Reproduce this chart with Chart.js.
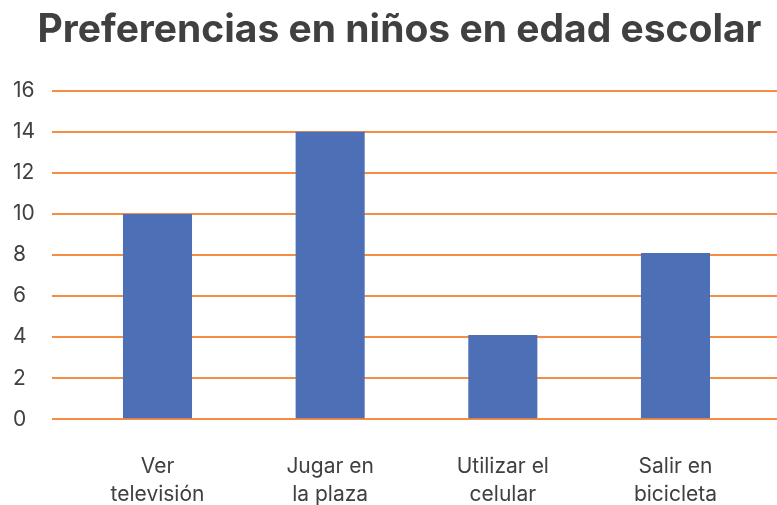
<!DOCTYPE html>
<html>
<head>
<meta charset="utf-8">
<script src="https://cdn.jsdelivr.net/npm/chart.js@4"></script>
<style>
    body { margin: 0; background: #ffffff; }
    #wrap { width: 777px; height: 505px; }
</style>
</head>
<body>
<div id="wrap"><canvas id="chart" width="777" height="505"></canvas></div>
<script>
const chartTitle = 'Preferencias en niños en edad escolar';
const categories = [
    ['Ver', 'televisión'],
    ['Jugar en', 'la plaza'],
    ['Utilizar el', 'celular'],
    ['Salir en', 'bicicleta']
];
const values = [10, 14, 4.1, 8.1];
const yTicks = [0, 2, 4, 6, 8, 10, 12, 14, 16];

const gridColor = '#F58D42';
const barColor = '#4D6FB5';
const textColor = '#404040';

document.addEventListener("DOMContentLoaded", function () {
    const ctx = document.getElementById('chart').getContext('2d');
    new Chart(ctx, {
        type: 'bar',
        data: {
            datasets: [{
                data: values.map((v, i) => ({ x: i + 1, y: v })),
                backgroundColor: barColor,
                borderWidth: 0,
                barPercentage: 0.8,
                categoryPercentage: 0.5
            }]
        },
        options: {
            responsive: false,
            animation: false,
            layout: { padding: { left: 22, right: 0, top: 0, bottom: -29 } },
            plugins: {
                legend: { display: false },
                tooltip: { enabled: false },
                title: {
                    display: true,
                    text: chartTitle,
                    color: textColor,
                    font: { family: 'Inter', size: 39, weight: 'bold', lineHeight: 1.2 },
                    padding: { top: 7, bottom: 37 }
                }
            },
            scales: {
                x: {
                    type: 'linear',
                    offset: false,
                    min: 0.389,
                    max: 4.588,
                    grid: { display: false },
                    border: { display: false },
                    afterBuildTicks: function (scale) {
                        scale.ticks = categories.map((c, i) => ({ value: i + 1 }));
                    },
                    ticks: {
                        autoSkip: false,
                        maxRotation: 0,
                        padding: 25,
                        color: textColor,
                        font: { family: 'Inter', size: 21, lineHeight: 1.35 },
                        callback: function (value) {
                            return categories[value - 1] || '';
                        }
                    }
                },
                y: {
                    min: 0,
                    max: 16,
                    afterBuildTicks: function (scale) {
                        scale.ticks = yTicks.map(v => ({ value: v }));
                    },
                    afterFit: function (scale) {
                        scale.width = 30;
                    },
                    grid: { color: gridColor, lineWidth: 2, drawTicks: false },
                    border: { display: false },
                    ticks: {
                        mirror: true,
                        padding: -39,
                        color: textColor,
                        font: { family: 'Inter', size: 21 }
                    }
                }
            }
        }
    });
});
</script>
</body>
</html>
